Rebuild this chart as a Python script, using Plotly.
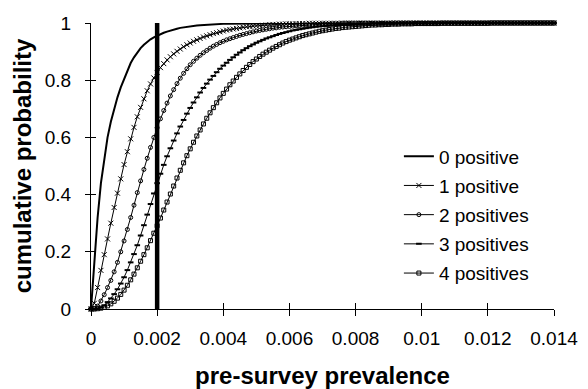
import plotly.graph_objects as go

# x sampling grid (pre-survey prevalence), step 0.0001 from 0 to 0.014
prevalence = [round(i * 0.0001, 4) for i in range(141)]

# cumulative probability, one value per grid point
pos0 = [0, 0.17, 0.32, 0.44, 0.53, 0.60, 0.655, 0.70, 0.74, 0.775,
        0.805, 0.835, 0.86, 0.88, 0.897, 0.912, 0.924, 0.934, 0.943, 0.95,
        0.956, 0.961, 0.966, 0.970, 0.974, 0.977, 0.980, 0.983, 0.985, 0.987,
        0.989, 0.990, 0.991, 0.992, 0.993, 0.994, 0.995, 0.995, 0.996, 0.996,
        0.997, 0.997, 0.997, 0.998, 0.998, 0.998, 0.998, 0.999, 0.999, 0.999,
        0.999, 0.999, 0.999, 0.999, 0.999, 0.999, 1, 1, 1, 1,
        1, 1, 1, 1, 1, 1, 1, 1, 1, 1,
        1, 1, 1, 1, 1, 1, 1, 1, 1, 1,
        1, 1, 1, 1, 1, 1, 1, 1, 1, 1,
        1, 1, 1, 1, 1, 1, 1, 1, 1, 1,
        1, 1, 1, 1, 1, 1, 1, 1, 1, 1,
        1, 1, 1, 1, 1, 1, 1, 1, 1, 1,
        1, 1, 1, 1, 1, 1, 1, 1, 1, 1,
        1, 1, 1, 1, 1, 1, 1, 1, 1, 1,
        1]

pos1 = [0, 0.02, 0.075, 0.135, 0.19, 0.245, 0.30, 0.355, 0.405, 0.455,
        0.505, 0.55, 0.595, 0.635, 0.672, 0.705, 0.735, 0.763, 0.787, 0.808,
        0.827, 0.844, 0.858, 0.871, 0.882, 0.892, 0.901, 0.909, 0.917, 0.924,
        0.93, 0.936, 0.941, 0.946, 0.951, 0.955, 0.959, 0.963, 0.966, 0.969,
        0.972, 0.975, 0.977, 0.979, 0.981, 0.983, 0.985, 0.987, 0.988, 0.989,
        0.990, 0.991, 0.992, 0.993, 0.994, 0.995, 0.995, 0.996, 0.996, 0.997,
        0.997, 0.997, 0.998, 0.998, 0.998, 0.998, 0.999, 0.999, 0.999, 0.999,
        0.999, 0.999, 0.999, 0.999, 0.999, 0.999, 1, 1, 1, 1,
        1, 1, 1, 1, 1, 1, 1, 1, 1, 1,
        1, 1, 1, 1, 1, 1, 1, 1, 1, 1,
        1, 1, 1, 1, 1, 1, 1, 1, 1, 1,
        1, 1, 1, 1, 1, 1, 1, 1, 1, 1,
        1, 1, 1, 1, 1, 1, 1, 1, 1, 1,
        1, 1, 1, 1, 1, 1, 1, 1, 1, 1,
        1]

pos2 = [0, 0.002, 0.01, 0.028, 0.05, 0.075, 0.10, 0.13, 0.163, 0.20,
        0.238, 0.278, 0.32, 0.363, 0.407, 0.448, 0.488, 0.527, 0.565, 0.60,
        0.634, 0.665, 0.694, 0.72, 0.745, 0.767, 0.788, 0.807, 0.824, 0.84,
        0.854, 0.866, 0.877, 0.887, 0.896, 0.904, 0.912, 0.919, 0.925, 0.931,
        0.936, 0.941, 0.945, 0.949, 0.953, 0.957, 0.960, 0.963, 0.966, 0.969,
        0.972, 0.974, 0.976, 0.978, 0.980, 0.982, 0.983, 0.985, 0.986, 0.987,
        0.988, 0.989, 0.990, 0.991, 0.992, 0.993, 0.993, 0.994, 0.995, 0.995,
        0.996, 0.996, 0.996, 0.997, 0.997, 0.997, 0.998, 0.998, 0.998, 0.998,
        0.998, 0.999, 0.999, 0.999, 0.999, 0.999, 0.999, 0.999, 0.999, 0.999,
        0.999, 1, 1, 1, 1, 1, 1, 1, 1, 1,
        1, 1, 1, 1, 1, 1, 1, 1, 1, 1,
        1, 1, 1, 1, 1, 1, 1, 1, 1, 1,
        1, 1, 1, 1, 1, 1, 1, 1, 1, 1,
        1, 1, 1, 1, 1, 1, 1, 1, 1, 1,
        1]

pos3 = [0, 0, 0.002, 0.006, 0.013, 0.024, 0.037, 0.052, 0.069, 0.089,
        0.111, 0.136, 0.163, 0.192, 0.223, 0.257, 0.293, 0.33, 0.367, 0.404,
        0.44, 0.473, 0.504, 0.534, 0.562, 0.589, 0.614, 0.638, 0.661, 0.683,
        0.703, 0.722, 0.74, 0.757, 0.773, 0.788, 0.802, 0.815, 0.828, 0.84,
        0.851, 0.861, 0.871, 0.880, 0.889, 0.897, 0.905, 0.912, 0.919, 0.925,
        0.931, 0.936, 0.941, 0.946, 0.950, 0.954, 0.958, 0.962, 0.965, 0.968,
        0.971, 0.974, 0.976, 0.978, 0.980, 0.982, 0.984, 0.985, 0.987, 0.988,
        0.989, 0.990, 0.991, 0.992, 0.993, 0.993, 0.994, 0.995, 0.995, 0.996,
        0.996, 0.996, 0.997, 0.997, 0.997, 0.998, 0.998, 0.998, 0.998, 0.998,
        0.998, 0.999, 0.999, 0.999, 0.999, 0.999, 0.999, 0.999, 0.999, 0.999,
        0.999, 0.999, 0.999, 0.999, 0.999, 0.999, 1, 1, 1, 1,
        1, 1, 1, 1, 1, 1, 1, 1, 1, 1,
        1, 1, 1, 1, 1, 1, 1, 1, 1, 1,
        1, 1, 1, 1, 1, 1, 1, 1, 1, 1,
        1]

pos4 = [0, 0, 0.001, 0.003, 0.006, 0.011, 0.018, 0.027, 0.038, 0.051,
        0.066, 0.083, 0.102, 0.122, 0.144, 0.167, 0.19, 0.214, 0.239, 0.265,
        0.291, 0.318, 0.346, 0.374, 0.402, 0.43, 0.458, 0.485, 0.511, 0.536,
        0.56, 0.583, 0.605, 0.626, 0.647, 0.667, 0.686, 0.704, 0.721, 0.738,
        0.754, 0.769, 0.784, 0.797, 0.810, 0.822, 0.834, 0.845, 0.855, 0.865,
        0.874, 0.883, 0.891, 0.898, 0.905, 0.912, 0.918, 0.924, 0.930, 0.935,
        0.940, 0.944, 0.948, 0.952, 0.956, 0.959, 0.962, 0.965, 0.968, 0.971,
        0.973, 0.975, 0.977, 0.979, 0.981, 0.982, 0.984, 0.985, 0.986, 0.987,
        0.988, 0.989, 0.990, 0.991, 0.992, 0.993, 0.993, 0.994, 0.994, 0.995,
        0.995, 0.996, 0.996, 0.996, 0.997, 0.997, 0.997, 0.997, 0.998, 0.998,
        0.998, 0.998, 0.998, 0.998, 0.998, 0.998, 0.999, 0.999, 0.999, 0.999,
        0.999, 0.999, 0.999, 0.999, 0.999, 0.999, 0.999, 0.999, 0.999, 0.999,
        0.999, 1, 1, 1, 1, 1, 1, 1, 1, 1,
        1, 1, 1, 1, 1, 1, 1, 1, 1, 1,
        1]

series_names = ["0 positive", "1 positive", "2 positives", "3 positives", "4 positives"]
threshold = 0.002

x_ticks = [0, 0.002, 0.004, 0.006, 0.008, 0.01, 0.012, 0.014]
x_tick_text = ["0", "0.002", "0.004", "0.006", "0.008", "0.01", "0.012", "0.014"]
y_ticks = [0, 0.2, 0.4, 0.6, 0.8, 1]
y_tick_text = ["0", "0.2", "0.4", "0.6", "0.8", "1"]

FONT = "Liberation Sans, Arial, sans-serif"

fig = go.Figure()

styles = [
    dict(mode="lines", line=dict(color="black", width=2)),
    dict(mode="lines+markers", line=dict(color="black", width=1),
         marker=dict(symbol="x-thin", size=5, line=dict(color="black", width=1))),
    dict(mode="lines+markers", line=dict(color="black", width=1),
         marker=dict(symbol="circle-open", size=4, color="black", line=dict(width=1))),
    dict(mode="lines+markers", line=dict(color="black", width=1),
         marker=dict(symbol="line-ew", size=4, line=dict(color="black", width=2))),
    dict(mode="lines+markers", line=dict(color="black", width=1),
         marker=dict(symbol="square-open", size=4, color="black", line=dict(width=1))),
]
for name, vals, st in zip(series_names, [pos0, pos1, pos2, pos3, pos4], styles):
    fig.add_trace(go.Scatter(x=prevalence, y=vals, name=name, cliponaxis=False,
                             legendgroup=name, **st))

fig.add_trace(go.Scatter(x=[threshold, threshold], y=[y_ticks[0], y_ticks[-1]],
                         mode="lines", line=dict(color="black", width=4.5),
                         showlegend=False, hoverinfo="skip"))

axis_common = dict(showgrid=False, zeroline=False, linecolor="black", linewidth=1,
                   tickcolor="black", tickwidth=1, automargin=False)

fig.update_layout(
    width=588, height=389,
    margin=dict(l=91, r=34, t=23, b=80),
    paper_bgcolor="white", plot_bgcolor="white",
    font=dict(family=FONT, size=19, color="black"),
    showlegend=True,
    legend=dict(x=0.665, y=0.60, xanchor="left", yanchor="top",
                bgcolor="rgba(0,0,0,0)", font=dict(size=19, family=FONT),
                tracegroupgap=1.5),
    xaxis=dict(range=[0, 0.014], tickvals=x_ticks, ticktext=x_tick_text,
               ticks="outside", ticklen=6, showline=True, ticklabelstandoff=6,
               title=dict(text="<b>pre-survey prevalence</b>", standoff=20,
                          font=dict(size=24, family=FONT)),
               **axis_common),
    yaxis=dict(range=[0, 1], tickvals=y_ticks, ticktext=y_tick_text,
               ticks="outside", ticklen=5, showline=True, ticklabelstandoff=10,
               title=dict(text="<b>cumulative probability</b>", standoff=6,
                          font=dict(size=24, family=FONT)),
               **axis_common),
    xaxis2=dict(range=[0, 0.014], tickvals=x_ticks, overlaying="x", anchor="y2",
                side="bottom", ticks="inside", ticklen=6, showticklabels=False,
                showline=False, showgrid=False, zeroline=False, tickcolor="black",
                automargin=False),
    yaxis2=dict(range=[0, 1], tickvals=y_ticks, overlaying="y", anchor="x2",
                side="left", ticks="inside", ticklen=5, showticklabels=False,
                showline=False, showgrid=False, zeroline=False, tickcolor="black",
                automargin=False),
)
fig.add_trace(go.Scatter(x=[threshold], y=[y_ticks[0]], xaxis="x2", yaxis="y2",
                         mode="markers", marker=dict(opacity=0), showlegend=False,
                         hoverinfo="skip"))

fig.write_html("out.html", config={"displayModeBar": False},
               post_script="document.body.style.margin='0';")
